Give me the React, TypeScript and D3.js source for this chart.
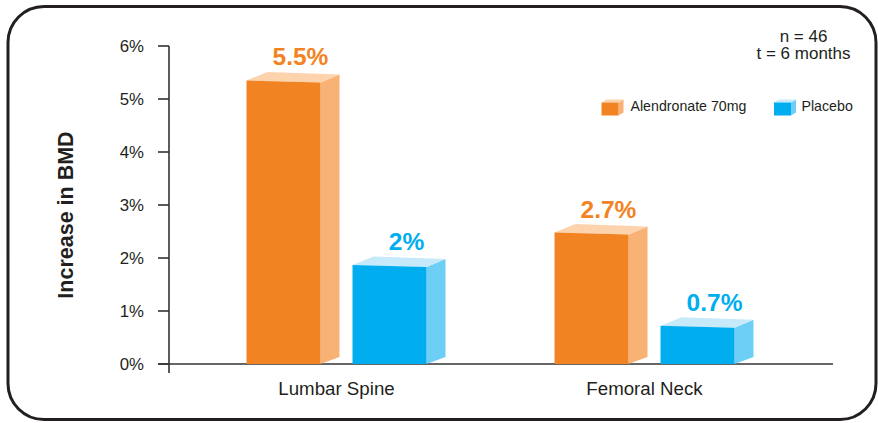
import React from "react";
import * as d3 from "d3";

const categories = ["Lumbar Spine", "Femoral Neck"];
const seriesNames = ["Alendronate 70mg", "Placebo"];
const alendronate = [5.35, 2.48];
const placebo = [1.87, 0.72];
const alendronateLabels = ["5.5%", "2.7%"];
const placeboLabels = ["2%", "0.7%"];
const yTicks = [0, 1, 2, 3, 4, 5, 6];
const noteLines = ["n = 46", "t = 6 months"];
const yTitle = "Increase in BMD";

const W = 878;
const H = 423;
const FONT = "'Liberation Sans', Arial, Helvetica, sans-serif";
const TEXT = "#231f20";

const palette = [
  { front: "#f28322", side: "#f9b275", top: "#fdd3ae" },
  { front: "#00aeef", side: "#6dcff6", top: "#c6eafa" },
];

export default function App() {
  const y = d3.scaleLinear().domain([0, 6]).range([364, 46]);
  const x = d3.scalePoint<string>().domain(categories).range([336.5, 644.5]);
  const sub = d3.scaleBand<string>().domain(seriesNames).range([-90, 90]).paddingInner(0.302);
  const bw = sub.bandwidth();
  const axisX = 169;
  const base = y(0);

  const series = [
    { name: seriesNames[0], values: alendronate, labels: alendronateLabels, c: palette[0] },
    { name: seriesNames[1], values: placebo, labels: placeboLabels, c: palette[1] },
  ];

  const bars = series.flatMap((s) =>
    categories.map((cat, i) => {
      const x0 = (x(cat) as number) + (sub(s.name) as number);
      const x1 = x0 + bw;
      const yt = y(s.values[i]);
      const ytr = yt + 2;
      const front = `M${x0},${base}L${x0},${yt}L${x1},${ytr}L${x1},${base}Z`;
      const top = `M${x0},${yt}L${x1},${ytr}L${x1 + 19},${ytr - 8}L${x0 + 21},${yt - 8.5}Z`;
      const side = `M${x1},${ytr}L${x1 + 19},${ytr - 8}L${x1 + 19},${base - 7}L${x1},${base}Z`;
      return (
        <g key={s.name + cat}>
          <path d={side} fill={s.c.side} />
          <path d={top} fill={s.c.top} />
          <path d={front} fill={s.c.front} />
          <text
            x={(x0 + x1) / 2 + 17}
            y={yt - 15}
            textAnchor="middle"
            fontSize={24.5}
            fontWeight="bold"
            fill={s.c.front}
          >
            {s.labels[i]}
          </text>
        </g>
      );
    })
  );

  const legendX = [601.5, 774];
  const legendTextX = [630.5, 801.5];

  return (
    <svg width={W} height={H} style={{ position: "absolute", left: 0, top: 0 }} fontFamily={FONT}>
      <rect x={0} y={0} width={W} height={H} fill="#fff" />
      <rect x={8} y={6.5} width={868} height={413} rx={36} ry={36} fill="none" stroke={TEXT} strokeWidth={3} />

      {/* axes */}
      <line x1={axisX} x2={axisX} y1={y(6)} y2={base + 9} stroke="#333" strokeWidth={1.6} />
      <line x1={158} x2={833} y1={base} y2={base} stroke="#333" strokeWidth={1.6} />
      {yTicks.map((t) => (
        <g key={t}>
          <line x1={158} x2={axisX} y1={y(t)} y2={y(t)} stroke="#333" strokeWidth={1.6} />
          <text x={144} y={y(t) + 5.5} textAnchor="end" fontSize={16.8} fill={TEXT}>
            {`${t}%`}
          </text>
        </g>
      ))}
      <text
        transform={`translate(73,215) rotate(-90)`}
        textAnchor="middle"
        fontSize={21.5}
        fontWeight="bold"
        fill={TEXT}
      >
        {yTitle}
      </text>

      {bars}

      {categories.map((cat) => (
        <text key={cat} x={x(cat) as number} y={395} textAnchor="middle" fontSize={18.7} fill={TEXT}>
          {cat}
        </text>
      ))}

      {/* note */}
      {noteLines.map((l, i) => (
        <text key={l} x={803.5} y={41.5 + i * 17.5} textAnchor="middle" fontSize={17} fill={TEXT}>
          {l}
        </text>
      ))}

      {/* legend */}
      {series.map((s, i) => {
        const lx = legendX[i];
        const ly = 102.5;
        return (
          <g key={s.name}>
            <path d={`M${lx + 17},${ly}L${lx + 22},${ly - 3}L${lx + 22},${ly + 10}L${lx + 17},${ly + 13}Z`} fill={s.c.side} />
            <path d={`M${lx},${ly}L${lx + 17},${ly}L${lx + 22},${ly - 3}L${lx + 5},${ly - 3}Z`} fill={s.c.top} />
            <rect x={lx} y={ly} width={17} height={13} fill={s.c.front} />
            <text x={legendTextX[i]} y={110.5} fontSize={14.2} fill={TEXT}>
              {s.name}
            </text>
          </g>
        );
      })}
    </svg>
  );
}
